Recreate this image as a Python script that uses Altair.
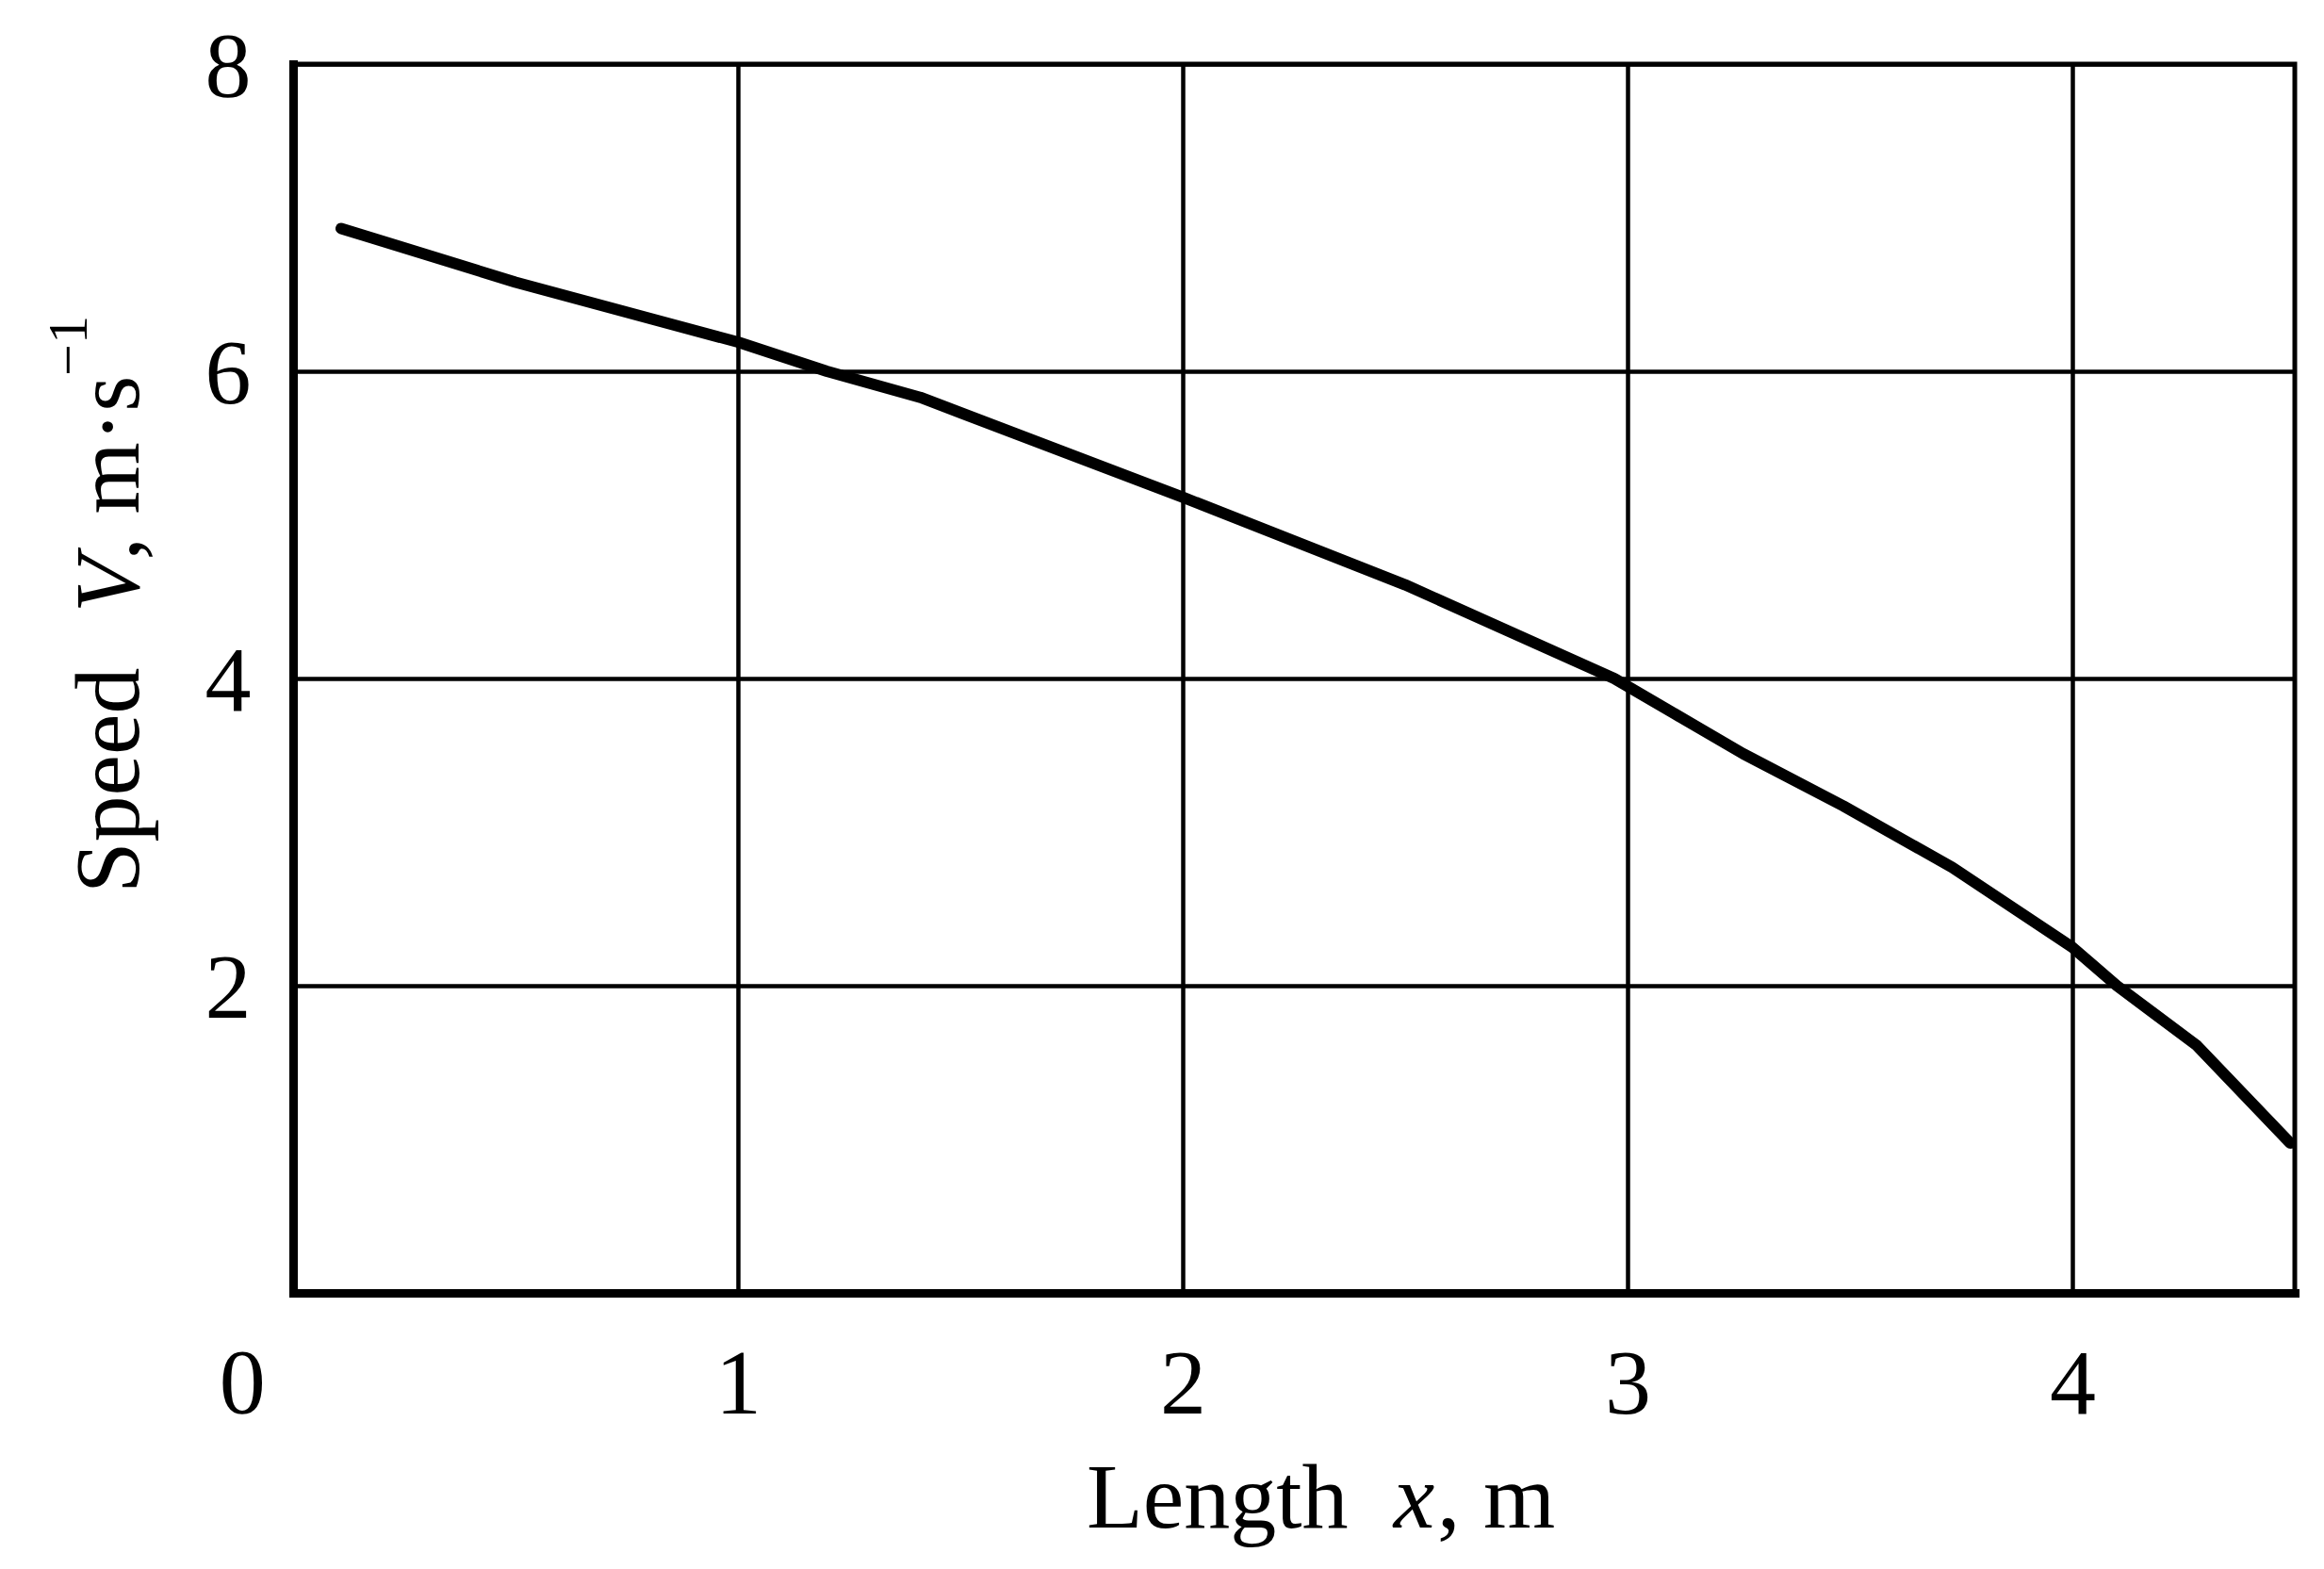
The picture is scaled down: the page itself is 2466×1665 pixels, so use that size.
import altair as alt
import pandas as pd

# Curve (length x in m, speed V in m/s)
x_vals = [0.108, 0.5, 1.0, 1.2, 1.41, 2.0, 2.5, 2.97, 3.26, 3.485, 3.73, 4.0, 4.10, 4.28, 4.49]
v_vals = [6.93, 6.58, 6.19, 6.0, 5.83, 5.18, 4.61, 4.0, 3.51, 3.17, 2.77, 2.25, 2.0, 1.61, 0.975]
x_ticks = [1, 2, 3, 4]
y_ticks = [2, 4, 6, 8]

FONT = "Liberation Serif"
FS = 98
SUP_FS = 60

df = pd.DataFrame({"x": x_vals, "v": v_vals})

xscale = alt.Scale(domain=[0, 4.5], nice=False, zero=False)
yscale = alt.Scale(domain=[0, 8], nice=False, zero=False)

line = alt.Chart(df).mark_line(
    color="black", strokeWidth=12, strokeCap="round", strokeJoin="round"
).encode(
    x=alt.X("x:Q", scale=xscale, axis=alt.Axis(values=x_ticks, title=None, grid=True, format="d")),
    y=alt.Y("v:Q", scale=yscale, axis=alt.Axis(values=y_ticks, title=None, grid=True, format="d")),
)

one = pd.DataFrame({"a": [0]})


def label(text, xd, yd, **kw):
    return alt.Chart(one).mark_text(text=text, font=FONT, color="black", **kw).encode(
        x=alt.datum(xd), y=alt.datum(yd)
    )


zero_label = label("0", -0.114, 0, fontSize=FS, align="center", baseline="top", dy=50)

# x-axis title: "Length  x, m" with italic x
xt_y = -1.528
x_title = [
    label("Length", 2.372, xt_y, fontSize=FS, align="right", baseline="alphabetic"),
    label("x", 2.474, xt_y, fontSize=FS, align="left", baseline="alphabetic", fontStyle="italic"),
    label(", m", 2.572, xt_y, fontSize=FS, align="left", baseline="alphabetic"),
]

# y-axis title: "Speed  V, m·s⁻¹" rotated, italic V, superscript −1
yt_x = -0.3476
y_title = [
    label("Speed", yt_x, 2.601, fontSize=FS, angle=270, align="left", baseline="alphabetic"),
    label("V", yt_x, 4.43, fontSize=FS, angle=270, align="left", baseline="alphabetic", fontStyle="italic"),
    label(", m·s", yt_x, 4.77, fontSize=FS, angle=270, align="left", baseline="alphabetic"),
    label("−1", -0.464, 5.97, fontSize=SUP_FS, angle=270, align="left", baseline="alphabetic"),
]

chart = alt.layer(line, zero_label, *x_title, *y_title).properties(
    width=2124,
    height=1304,
    autosize=alt.AutoSizeParams(type="none"),
    padding={"left": 303, "top": 60, "right": 20, "bottom": 280},
).configure_view(
    stroke="black", strokeWidth=5
).configure_axis(
    labelFont=FONT,
    labelFontSize=FS,
    labelColor="black",
    ticks=False,
    tickSize=0,
    domainColor="black",
    domainWidth=9,
    domainCap="square",
    gridColor="black",
    gridWidth=4.5,
    gridOpacity=1,
    labelFlush=False,
    labelOverlap=False,
).configure_axisX(
    labelPadding=50
).configure_axisY(
    labelPadding=45, labelOffset=4
)

chart.save("out.html", embed_options={"renderer": "svg", "actions": False})
